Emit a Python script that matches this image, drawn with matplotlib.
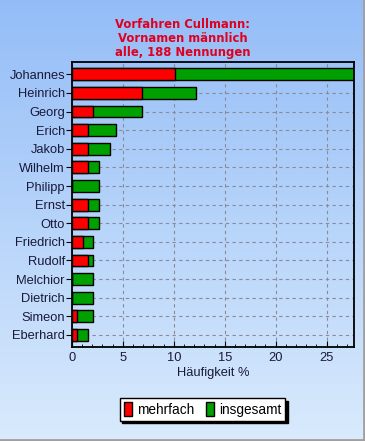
import numpy as np
import matplotlib
matplotlib.use("Agg")
import matplotlib.pyplot as plt
from matplotlib.patches import Rectangle

# Vornamen (männlich) und Häufigkeit in % von 188 Nennungen
namen = ["Johannes", "Heinrich", "Georg", "Erich", "Jakob", "Wilhelm", "Philipp",
         "Ernst", "Otto", "Friedrich", "Rudolf", "Melchior", "Dietrich", "Simeon", "Eberhard"]
mehrfach = [10.1, 6.9, 2.1, 1.6, 1.6, 1.6, 0.0, 1.6, 1.6, 1.1, 1.6, 0.0, 0.0, 0.5, 0.5]
insgesamt = [27.7, 12.2, 6.9, 4.3, 3.7, 2.7, 2.7, 2.7, 2.7, 2.1, 2.1, 2.1, 2.1, 2.1, 1.6]
titel = "Vorfahren Cullmann:\nVornamen männlich\nalle, 188 Nennungen"

fig = plt.figure(figsize=(3.65, 4.41), dpi=100)

# Hintergrund mit Farbverlauf
bg = fig.add_axes([0, 0, 1, 1], zorder=-10)
top = np.array([0.58, 0.74, 0.97])
bot = np.array([0.85, 0.92, 0.99])
t = np.linspace(0, 1, 256)[:, None]
grad = (top * (1 - t) + bot * t)[:, None, :]
bg.imshow(grad, aspect="auto", extent=[0, 1, 0, 1], origin="upper")
bg.plot([0, 0.997, 0.997], [0.003, 0.003, 1], color="#a0a0a0", lw=2,
        transform=bg.transAxes)
bg.set_xlim(0, 1)
bg.set_ylim(0, 1)
bg.set_axis_off()

ax = fig.add_axes([0.197, 0.213, 0.773, 0.646])
ax.set_facecolor("none")
y = np.arange(len(namen))
ax.barh(y, insgesamt, height=0.64, color="#00a000", edgecolor="black", lw=1,
        label="insgesamt", zorder=3)
ax.barh(y, mehrfach, height=0.64, color="#ff0000", edgecolor="black", lw=1,
        label="mehrfach", zorder=4)

ax.set_ylim(len(namen) - 0.35, -0.65)
ax.set_xlim(0, 27.7)
ax.set_yticks(y)
ax.set_yticklabels(namen, fontsize=9.3, color="#1a1a3a", family="Liberation Sans")
ax.set_xticks([0, 5, 10, 15, 20, 25])
ax.set_xticks(np.arange(0, 28, 1), minor=True)
ax.tick_params(axis="x", labelsize=9.3, labelcolor="#1a1a3a", direction="in", length=4)
ax.tick_params(axis="x", which="minor", direction="in", length=2)
ax.tick_params(axis="y", length=4, pad=1)
for lab in ax.get_xticklabels():
    lab.set_family("Liberation Sans")
ax.set_xlabel("Häufigkeit %", fontsize=9.3, color="#1a1a3a", family="Liberation Sans",
              labelpad=2)
ax.grid(True, color="#8a8a98", linestyle=(0, (3, 3)), lw=0.8, zorder=1)
for s in ax.spines.values():
    s.set_linewidth(1.3)
    s.set_zorder(5)

fig.text(0.5, 0.96, titel, ha="center", va="top", color="#e00020",
         fontsize=8.4, fontweight="bold", linespacing=1.1)

h, l = ax.get_legend_handles_labels()
leg = fig.legend(h[::-1], l[::-1], loc="center", bbox_to_anchor=(0.555, 0.072),
                 ncol=2, fancybox=False, shadow={"color": "black", "alpha": 1},
                 framealpha=1, edgecolor="black",
                 prop={"family": "Liberation Sans", "size": 9.8},
                 handlelength=0.6, handleheight=1.2, handletextpad=0.4,
                 columnspacing=0.8, borderpad=0.3)
leg.get_frame().set_linewidth(1)

fig.savefig("out.png", dpi=100)
